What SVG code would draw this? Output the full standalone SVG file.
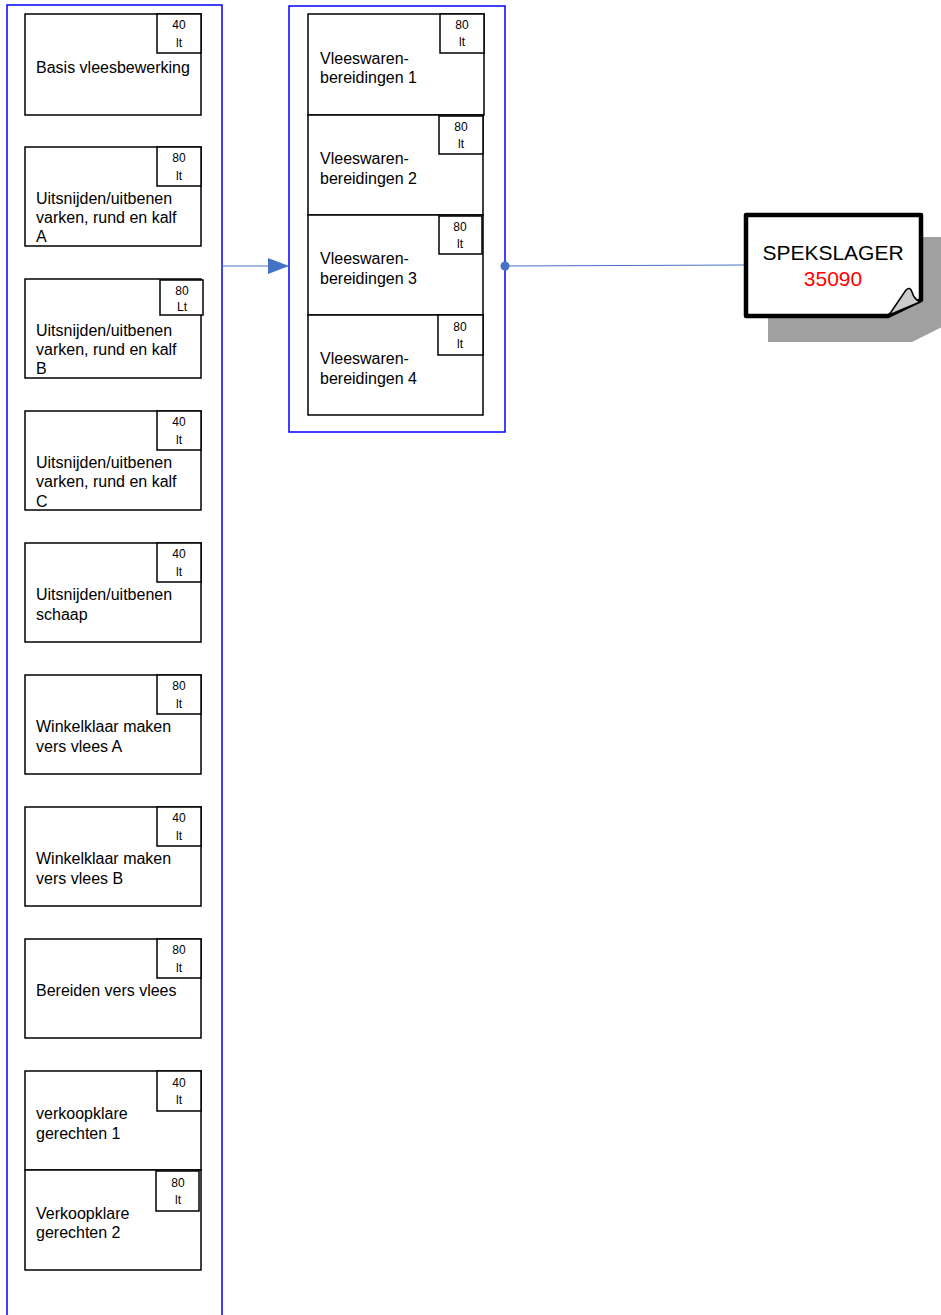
<svg xmlns="http://www.w3.org/2000/svg" width="941" height="1315" viewBox="0 0 941 1315">
<style>
.cont{fill:none;stroke:#0000ff;stroke-width:1.5}
.box{fill:#fff;stroke:#000;stroke-width:1.5}
.t{font-family:"Liberation Sans",Arial,sans-serif;font-size:16px;fill:#000}
.s{font-family:"Liberation Sans",Arial,sans-serif;font-size:12px;fill:#000;text-anchor:middle}
.c{stroke:#4472c4;stroke-width:1;fill:none}
.big{font-family:"Liberation Sans",Arial,sans-serif;font-size:21px;text-anchor:middle}
</style>
<defs>
<marker id="arr" markerWidth="22" markerHeight="16" refX="21" refY="8" orient="auto" markerUnits="userSpaceOnUse">
<path d="M0,0 L21,8 L0,16 Z" fill="#4472c4"/>
</marker>
</defs>
<rect class="cont" x="7" y="5" width="215" height="1320"/>
<rect class="cont" x="289" y="6" width="216" height="426"/>
<g id="connectors">
<line class="c" x1="222" y1="266" x2="289" y2="266" marker-end="url(#arr)"/>
<line class="c" x1="505" y1="266" x2="744" y2="265"/>
<circle cx="505" cy="266" r="4.5" fill="#4472c4"/>
</g>
<g id="n1"><rect class="box" x="25" y="14" width="176" height="101"/><rect class="box" x="157" y="14" width="44" height="39"/><text class="s" x="179" y="29">40</text><text class="s" x="179" y="47">lt</text><text class="t" x="36" y="73">Basis vleesbewerking</text></g>
<g id="n2"><rect class="box" x="25" y="147" width="176" height="99"/><rect class="box" x="157" y="147" width="44" height="39"/><text class="s" x="179" y="162">80</text><text class="s" x="179" y="180">lt</text><text class="t" x="36" y="204">Uitsnijden/uitbenen</text><text class="t" x="36" y="223">varken, rund en kalf</text><text class="t" x="36" y="242">A</text></g>
<g id="n3"><rect class="box" x="25" y="279" width="176" height="99"/><rect class="box" x="160" y="280" width="43" height="35"/><text class="s" x="182" y="295">80</text><text class="s" x="182" y="311">Lt</text><text class="t" x="36" y="336">Uitsnijden/uitbenen</text><text class="t" x="36" y="355">varken, rund en kalf</text><text class="t" x="36" y="374">B</text></g>
<g id="n4"><rect class="box" x="25" y="411" width="176" height="99"/><rect class="box" x="157" y="411" width="44" height="39"/><text class="s" x="179" y="426">40</text><text class="s" x="179" y="444">lt</text><text class="t" x="36" y="468">Uitsnijden/uitbenen</text><text class="t" x="36" y="487">varken, rund en kalf</text><text class="t" x="36" y="507">C</text></g>
<g id="n5"><rect class="box" x="25" y="543" width="176" height="99"/><rect class="box" x="157" y="543" width="44" height="39"/><text class="s" x="179" y="558">40</text><text class="s" x="179" y="576">lt</text><text class="t" x="36" y="600">Uitsnijden/uitbenen</text><text class="t" x="36" y="620">schaap</text></g>
<g id="n6"><rect class="box" x="25" y="675" width="176" height="99"/><rect class="box" x="157" y="675" width="44" height="39"/><text class="s" x="179" y="690">80</text><text class="s" x="179" y="708">lt</text><text class="t" x="36" y="732">Winkelklaar maken</text><text class="t" x="36" y="752">vers vlees A</text></g>
<g id="n7"><rect class="box" x="25" y="807" width="176" height="99"/><rect class="box" x="157" y="807" width="44" height="39"/><text class="s" x="179" y="822">40</text><text class="s" x="179" y="840">lt</text><text class="t" x="36" y="864">Winkelklaar maken</text><text class="t" x="36" y="884">vers vlees B</text></g>
<g id="n8"><rect class="box" x="25" y="939" width="176" height="99"/><rect class="box" x="157" y="939" width="44" height="39"/><text class="s" x="179" y="954">80</text><text class="s" x="179" y="972">lt</text><text class="t" x="36" y="996">Bereiden vers vlees</text></g>
<g id="n9"><rect class="box" x="25" y="1071" width="176" height="99"/><rect class="box" x="157" y="1071" width="44" height="40"/><text class="s" x="179" y="1087">40</text><text class="s" x="179" y="1104">lt</text><text class="t" x="36" y="1119">verkoopklare</text><text class="t" x="36" y="1139">gerechten 1</text></g>
<g id="n10"><rect class="box" x="25" y="1170" width="176" height="100"/><rect class="box" x="156" y="1171" width="43" height="40"/><text class="s" x="178" y="1187">80</text><text class="s" x="178" y="1204">lt</text><text class="t" x="36" y="1219">Verkoopklare</text><text class="t" x="36" y="1238">gerechten 2</text></g>
<g id="m1"><rect class="box" x="308" y="14" width="176" height="101"/><rect class="box" x="440" y="14" width="44" height="39"/><text class="s" x="462" y="29">80</text><text class="s" x="462" y="46">lt</text><text class="t" x="320" y="64">Vleeswaren-</text><text class="t" x="320" y="83">bereidingen 1</text></g>
<g id="m2"><rect class="box" x="308" y="115" width="175" height="100"/><rect class="box" x="439" y="116" width="44" height="38"/><text class="s" x="461" y="131">80</text><text class="s" x="461" y="148">lt</text><text class="t" x="320" y="164">Vleeswaren-</text><text class="t" x="320" y="184">bereidingen 2</text></g>
<g id="m3"><rect class="box" x="308" y="215" width="175" height="100"/><rect class="box" x="439" y="216" width="43" height="38"/><text class="s" x="460" y="231">80</text><text class="s" x="460" y="248">lt</text><text class="t" x="320" y="264">Vleeswaren-</text><text class="t" x="320" y="284">bereidingen 3</text></g>
<g id="m4"><rect class="box" x="308" y="315" width="175" height="100"/><rect class="box" x="438" y="315" width="45" height="40"/><text class="s" x="460" y="331">80</text><text class="s" x="460" y="348">lt</text><text class="t" x="320" y="364">Vleeswaren-</text><text class="t" x="320" y="384">bereidingen 4</text></g>
<g id="spekslager">
<path d="M768,237 L948,237 L948,324 L912,342 L768,342 Z" fill="#a0a0a0"/>
<path d="M746,215 L921,215 L921,300 L888,316 L746,316 Z" fill="#fff" stroke="#000" stroke-width="4.5" stroke-linejoin="round"/>
<path d="M889,315 L906,290 Q910,286 912,292 Q914,299 920,302 Z" fill="#cccccc" stroke="#000" stroke-width="1.5" stroke-linejoin="round"/>
<text class="big" x="833" y="260" fill="#000">SPEKSLAGER</text>
<text class="big" x="833" y="286" fill="#ff0000">35090</text>
</g>
</svg>
